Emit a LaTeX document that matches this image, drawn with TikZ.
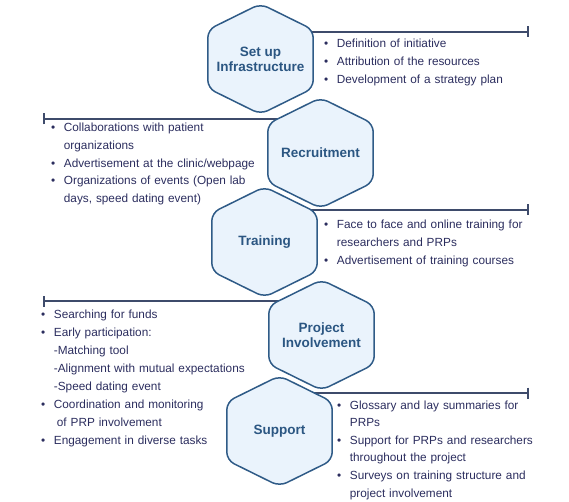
\documentclass[tikz,border=0pt]{standalone}
\usepackage{fontspec}
\setmainfont{Liberation Sans}
\usetikzlibrary{arrows.meta}
\definecolor{hexfill}{HTML}{EAF3FC}
\definecolor{hexborder}{HTML}{2F5B87}
\definecolor{labelc}{HTML}{2B5682}
\definecolor{textc}{HTML}{2B2D5E}
\definecolor{connc}{HTML}{3E4B6B}
\pgfdeclarelayer{lines}
\pgfdeclarelayer{hexes}
\pgfsetlayers{lines,hexes,main}
\newcommand\itm[1]{\noindent\hangindent=12.7pt\hangafter=1\makebox[12.7pt][l]{\textbullet}#1\par}
\begin{document}
\begin{tikzpicture}[x=1pt,y=-1pt,
  hexbox/.style={rectangle, minimum width=105pt, minimum height=110pt, inner sep=0pt,
    align=center, text=labelc, font=\fontsize{13.5}{15}\selectfont\bfseries},
  hexshape/.style={draw=hexborder, fill=hexfill, line width=1.5pt, rounded corners=8pt},
  conn/.style={draw=connc, line width=1.6pt, -{Bar[width=11pt]}},
  bullets/.style={anchor=base west, inner sep=0pt, text width=240pt,
    text=textc, font=\fontsize{11.8}{17.6}\selectfont}]
\useasboundingbox (0,0) rectangle (569,502);

% hexagons
\node[hexbox] (h1) at (260.5,59) {Set up\\Infrastructure};
\node[hexbox] (h2) at (320.5,153) {Recruitment};
\node[hexbox] (h3) at (264.5,242) {Training};
\node[hexbox] (h4) at (321.5,335) {Project\\Involvement};
\node[hexbox] (h5) at (279.5,431) {Support};
\begin{pgfonlayer}{hexes}
\foreach \h in {h1,h2,h3,h4,h5}
  \draw[hexshape] (\h.east) -- ([yshift=-26pt]\h.north east) -- (\h.north)
    -- ([yshift=-26pt]\h.north west) -- ([yshift=26pt]\h.south west) -- (\h.south)
    -- ([yshift=26pt]\h.south east) -- cycle;
\end{pgfonlayer}

% connector ends
\coordinate (e1) at (529,32);
\coordinate (e2) at (43,119);
\coordinate (e3) at (529,210);
\coordinate (e4) at (43,301);
\coordinate (e5) at (529,393);
\begin{pgfonlayer}{lines}
\draw[conn] (h1 |- e1) -- (e1);
\draw[conn] (h2 |- e2) -- (e2);
\draw[conn] (h3 |- e3) -- (e3);
\draw[conn] (h4 |- e4) -- (e4);
\draw[conn] (h5 |- e5) -- (e5);
\end{pgfonlayer}

% bullet lists
\node[bullets] (t1) at (324,48) {%
\itm{Definition of initiative}%
\itm{Attribution of the resources}%
\itm{Development of a strategy plan}};
\node[bullets] (t2) at (51,132) {%
\itm{Collaborations with patient\newline organizations}%
\itm{Advertisement at the clinic/webpage}%
\itm{Organizations of events (Open lab\newline days, speed dating event)}};
\node[bullets] (t3) at (324,229) {%
\itm{Face to face and online training for\newline researchers and PRPs}%
\itm{Advertisement of training courses}};
\node[bullets, font=\fontsize{11.8}{18}\selectfont] (t4) at (41,318) {%
\itm{Searching for funds}%
\itm{Early participation:\newline -Matching tool\newline -Alignment with mutual expectations\newline -Speed dating event}%
\itm{Coordination and monitoring\newline \hspace*{3pt}of PRP involvement}%
\itm{Engagement in diverse tasks}};
\node[bullets] (t5) at (337,409) {%
\itm{Glossary and lay summaries for\newline PRPs}%
\itm{Support for PRPs and researchers\newline throughout the project}%
\itm{Surveys on training structure and\newline project involvement}};
\end{tikzpicture}
\end{document}
